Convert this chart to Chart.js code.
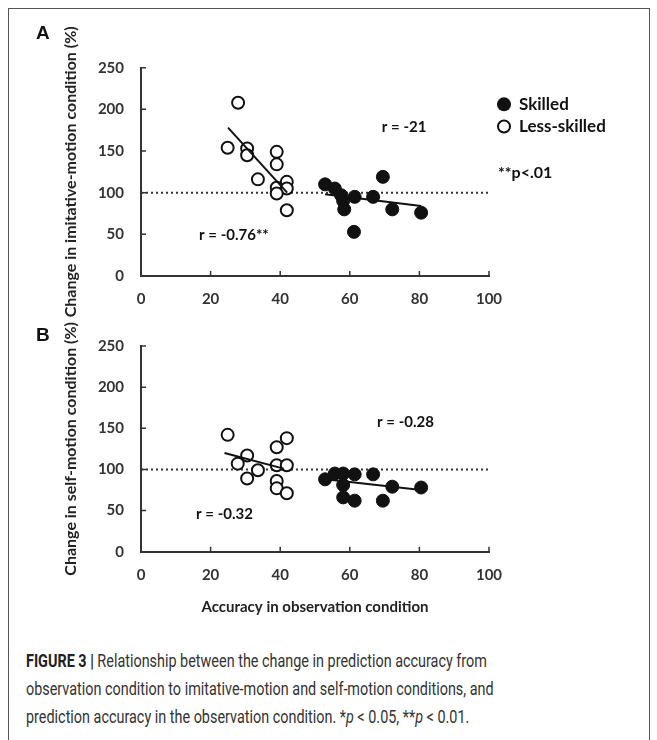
<!DOCTYPE html>
<html>
<head>
<meta charset="utf-8">
<script src="https://cdn.jsdelivr.net/npm/chart.js@4.4.1/dist/chart.umd.min.js"></script>
<style>
  body { margin:0; background:#fff; width:657px; height:740px; overflow:hidden; position:relative; }
  #frame { position:absolute; left:8px; top:8px; width:642px; height:760px; border:1px solid #555; box-sizing:border-box; }
  .panel { position:absolute; left:0; width:657px; height:320px; }
  .lbl { position:absolute; left:36px; font:bold 19px "Liberation Sans", Arial, sans-serif; color:#111; }
  #caption { position:absolute; left:26px; top:647px; font:18px Roboto, "Liberation Sans", sans-serif; color:#333;
             line-height:28px; white-space:nowrap; transform:scaleX(0.80); transform-origin:left top; }
  #caption b { color:#222; }
</style>
</head>
<body>
<div id="frame"></div>
<div class="panel" style="top:0"><canvas id="chartA" width="657" height="320"></canvas></div>
<div class="panel" style="top:320px"><canvas id="chartB" width="657" height="320"></canvas></div>
<div class="lbl" style="top:22px">A</div>
<div class="lbl" style="top:324px">B</div>
<div id="caption"><b>FIGURE 3 |</b> Relationship between the change in prediction accuracy from<br>observation condition to imitative-motion and self-motion conditions, and<br>prediction accuracy in the observation condition. *<i>p</i> &lt; 0.05, **<i>p</i> &lt; 0.01.</div>

<script>
// data
const xTicks = [0, 20, 40, 60, 80, 100];
const yTicks = [0, 50, 100, 150, 200, 250];

// panel A: imitative-motion
const aLessX = [27.9, 24.9, 30.5, 30.5, 39.0, 39.0, 33.6, 41.9, 39.0, 41.9, 39.0, 41.9];
const aLessY = [208, 154, 153, 145, 149, 134, 116, 113, 106, 105, 99, 79];
const aSkillX = [52.9, 55.7, 57.5, 58.1, 58.4, 61.4, 61.2, 66.7, 69.5, 72.2, 80.5];
const aSkillY = [110, 105, 97, 90, 80, 95, 53, 95, 119, 80, 76];
const aLessFitX = [25, 42];
const aLessFitY = [178, 100];
const aSkillFitX = [52.9, 80.5];
const aSkillFitY = [98, 84];

// panel B: self-motion
const bLessX = [24.9, 27.8, 30.5, 30.5, 33.6, 39.0, 41.9, 39.0, 41.9, 39.0, 39.0, 41.9];
const bLessY = [142, 107, 117, 89, 99, 127, 138, 105, 105, 86, 77, 71];
const bSkillX = [52.9, 55.7, 58.1, 61.4, 58.1, 58.1, 61.4, 66.7, 69.5, 72.2, 80.5];
const bSkillY = [88, 95, 95, 94, 81, 66, 62, 94, 62, 79, 78];
const bLessFitX = [24, 41];
const bLessFitY = [120, 101];
const bSkillFitX = [53, 80.5];
const bSkillFitY = [88, 75];

const refLine = 100;

const ink = '#111';
const axisInk = '#333';
const font = 'Lato, "Open Sans", sans-serif';

const pts = (xs, ys) => xs.map((x, i) => ({x: x, y: ys[i]}));

// small tick marks pointing into the plot
const innerTicks = {
  id: 'innerTicks',
  afterDraw(chart) {
    const {ctx, chartArea: a, scales: {x, y}} = chart;
    ctx.save();
    ctx.strokeStyle = axisInk;
    ctx.lineWidth = 1.5;
    ctx.beginPath();
    x.ticks.forEach(t => {
      if (t.value === 0) return;
      const px = x.getPixelForValue(t.value);
      ctx.moveTo(px, a.bottom);
      ctx.lineTo(px, a.bottom - 5);
    });
    y.ticks.forEach(t => {
      if (t.value === 0) return;
      const py = y.getPixelForValue(t.value);
      ctx.moveTo(a.left, py);
      ctx.lineTo(a.left + 5, py);
    });
    ctx.stroke();
    ctx.restore();
  }
};

// r values written in data space, plus the legend beside panel A
const notes = {
  id: 'notes',
  afterDraw(chart, args, opts) {
    const {ctx, scales: {x, y}, chartArea: a} = chart;
    ctx.save();
    ctx.fillStyle = ink;
    ctx.font = 'bold 15px ' + font;
    ctx.textAlign = 'center';
    ctx.textBaseline = 'middle';
    (opts.items || []).forEach(n => {
      ctx.fillText(n.text, x.getPixelForValue(n.x), y.getPixelForValue(n.y));
    });
    if (opts.legend) {
      const lx = a.right + 15;
      ctx.textAlign = 'left';
      ctx.font = 'bold 17px ' + font;
      ctx.beginPath();
      ctx.arc(lx, y.getPixelForValue(206), 7, 0, Math.PI * 2);
      ctx.fill();
      ctx.fillText('Skilled', lx + 15, y.getPixelForValue(206));
      ctx.beginPath();
      ctx.lineWidth = 2;
      ctx.strokeStyle = ink;
      ctx.arc(lx, y.getPixelForValue(179.5), 6, 0, Math.PI * 2);
      ctx.stroke();
      ctx.fillText('Less-skilled', lx + 15, y.getPixelForValue(179.5));
      ctx.font = 'bold 16px ' + font;
      ctx.fillText('**p<.01', lx - 6, y.getPixelForValue(124));
    }
    ctx.restore();
  }
};

function makeChart(id, d, cfg) {
  return new Chart(id, {
    type: 'scatter',
    data: {
      datasets: [
        {type: 'line', data: [{x: 0, y: refLine}, {x: 100, y: refLine}], borderColor: axisInk, borderWidth: 2,
         borderDash: [2, 3], pointRadius: 0, order: 6},
        {type: 'line', data: pts(d.skFitX, d.skFitY), borderColor: ink, borderWidth: 2, pointRadius: 0, order: 5},
        {label: 'Skilled', data: pts(d.skX, d.skY), backgroundColor: ink, borderColor: ink, borderWidth: 1,
         pointRadius: 6.5, order: 4},
        {label: 'Less-skilled', data: pts(d.lsX, d.lsY), backgroundColor: '#fff', borderColor: ink, borderWidth: 2,
         pointRadius: 6, order: 3},
        {type: 'line', data: pts(d.lsFitX, d.lsFitY), borderColor: ink, borderWidth: 2, pointRadius: 0, order: 2}
      ]
    },
    options: {
      responsive: false,
      animation: false,
      layout: {padding: {left: 0, right: 168, top: cfg.top, bottom: 0}},
      plugins: {legend: {display: false}, tooltip: {enabled: false}, notes: {items: cfg.notes, legend: cfg.legend}},
      scales: {
        x: {
          type: 'linear', min: 0, max: 100,
          afterBuildTicks: s => { s.ticks = xTicks.map(v => ({value: v})); },
          ticks: {color: axisInk, font: {family: font, size: 15, weight: 'bold'}, padding: 14},
          grid: {display: false, drawTicks: false},
          border: {display: true, color: axisInk, width: 2},
          title: cfg.xTitle ? {display: true, text: cfg.xTitle, color: '#222',
                 font: {family: font, size: 15, weight: 'bold'}, padding: {top: 0, bottom: 24}} : {display: false},
          afterFit: s => { s.height = cfg.xHeight; }
        },
        y: {
          type: 'linear', min: 0, max: 250,
          afterBuildTicks: s => { s.ticks = yTicks.map(v => ({value: v})); },
          ticks: {color: axisInk, font: {family: font, size: 15, weight: 'bold'}, padding: 17},
          grid: {display: false, drawTicks: false},
          border: {display: true, color: axisInk, width: 2},
          title: {display: true, text: cfg.yTitle, color: '#222',
                  font: {family: font, size: 16, weight: 'bold'}, padding: {top: 61, bottom: 0}},
          afterFit: s => { s.width = 141; }
        }
      }
    },
    plugins: [innerTicks, notes]
  });
}

makeChart('chartA', {lsX: aLessX, lsY: aLessY, skX: aSkillX, skY: aSkillY,
                     lsFitX: aLessFitX, lsFitY: aLessFitY, skFitX: aSkillFitX, skFitY: aSkillFitY}, {
  top: 67.7, xHeight: 44, legend: true,
  yTitle: 'Change in imitative-motion condition (%)',
  notes: [{text: 'r = -21', x: 75.6, y: 179}, {text: 'r = -0.76**', x: 26.7, y: 48.5}]
});

makeChart('chartB', {lsX: bLessX, lsY: bLessY, skX: bSkillX, skY: bSkillY,
                     lsFitX: bLessFitX, lsFitY: bLessFitY, skFitX: bSkillFitX, skFitY: bSkillFitY}, {
  top: 24.4, xHeight: 88.3, legend: false,
  yTitle: 'Change in self-motion condition (%)',
  xTitle: 'Accuracy in observation condition',
  notes: [{text: 'r = -0.28', x: 76, y: 158}, {text: 'r = -0.32', x: 24, y: 45.5}]
});
</script>
</body>
</html>
